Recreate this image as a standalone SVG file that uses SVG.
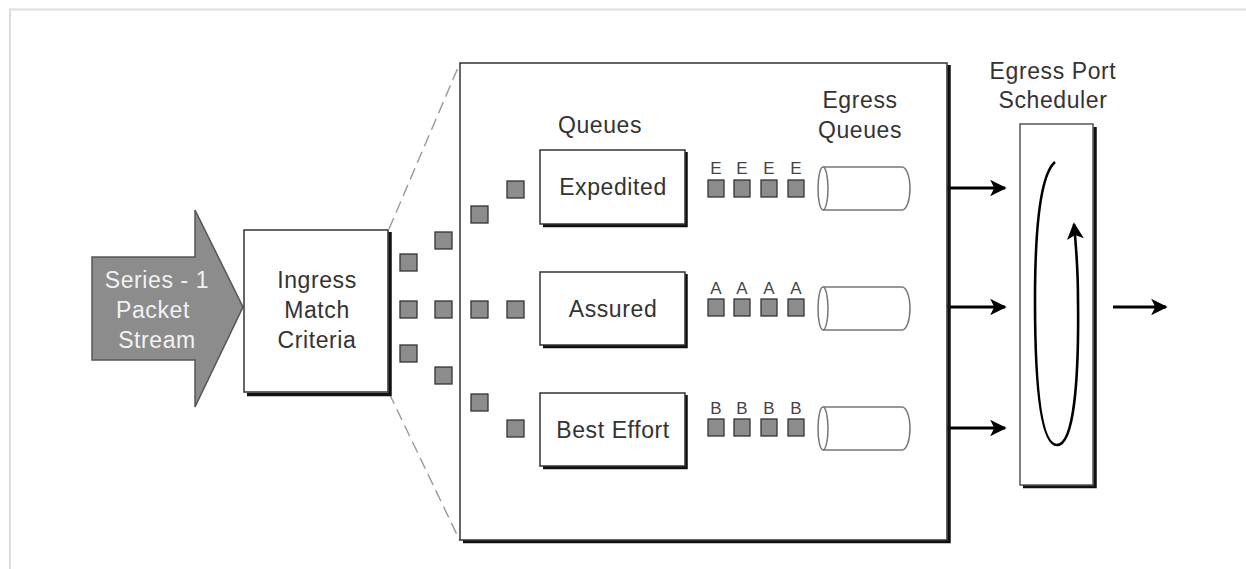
<svg xmlns="http://www.w3.org/2000/svg" width="1246" height="569" viewBox="0 0 1246 569">
  <defs>
    <style>
      text { font-family: "Liberation Sans", Arial, sans-serif; fill: #333; text-anchor: middle; }
      .lbl { font-size: 23px; letter-spacing: 0.6px; }
      .tag { font-size: 17px; fill: #444; }
      .box { fill: #fff; stroke: #333; stroke-width: 1.5; }
      .shadow { fill: none; stroke: #111; stroke-width: 3.5; }
      .pkt { fill: #8c8c8c; stroke: #333; stroke-width: 1.3; }
      .cyl { fill: #fff; stroke: #777; stroke-width: 1.5; }
      .flow { stroke: #000; stroke-width: 3; fill: none; marker-end: url(#head); }
      .guide { stroke: #999; stroke-width: 1.4; stroke-dasharray: 12,6; }
    </style>
    <marker id="head" viewBox="0 0 10 10" refX="9" refY="5" markerWidth="6" markerHeight="5.5" orient="auto" markerUnits="strokeWidth">
      <path d="M0,0 L10,5 L0,10 L2.5,5 Z" fill="#000"/>
    </marker>
    <marker id="loopHead" viewBox="0 0 10 10" refX="9" refY="5" markerWidth="6.5" markerHeight="6.5" orient="auto" markerUnits="strokeWidth">
      <path d="M0,0 L10,5 L0,10 L2.5,5 Z" fill="#000"/>
    </marker>
  </defs>

  <rect width="1246" height="569" fill="#fff"/>
  <!-- page frame -->
  <path d="M10,569 L10,9.5 L1246,9.5" fill="none" stroke="#dcdcdc" stroke-width="2"/>

  <g id="connectors">
    <line class="guide" x1="389" y1="229" x2="460" y2="63"/>
    <line class="guide" x1="389" y1="393" x2="460" y2="541"/>
    <line class="flow" x1="938" y1="188" x2="1005" y2="188"/>
    <line class="flow" x1="938" y1="307" x2="1005" y2="307"/>
    <line class="flow" x1="938" y1="428" x2="1005" y2="428"/>
    <line class="flow" x1="1113" y1="307" x2="1166" y2="307"/>
  </g>

  <g id="packet-stream">
    <polygon points="92,257 195,257 195,210 243,307 195,407 195,360 92,360" fill="#8c8c8c" stroke="#555" stroke-width="1.5"/>
    <text class="lbl" x="157" y="288" style="fill:#f2f2f2">Series - 1</text>
    <text class="lbl" x="153" y="318" style="fill:#f2f2f2">Packet</text>
    <text class="lbl" x="157" y="348" style="fill:#f2f2f2">Stream</text>
  </g>

  <g id="ingress">
    <path class="shadow" d="M390,232 L390,394.5 L247,394.5"/>
    <rect class="box" x="244" y="230" width="144" height="162"/>
    <text class="lbl" x="317" y="288">Ingress</text>
    <text class="lbl" x="317" y="318">Match</text>
    <text class="lbl" x="317" y="348">Criteria</text>
  </g>

  <g id="classifier">
    <path class="shadow" d="M949,65 L949,541.5 L463,541.5"/>
    <rect class="box" x="460" y="63" width="487" height="477"/>
    <text class="lbl" x="600" y="133">Queues</text>
    <text class="lbl" x="860" y="108">Egress</text>
    <text class="lbl" x="860" y="138">Queues</text>
  </g>

  <!-- packets fanning out of the classifier -->
  <g id="fan-packets">
    <rect class="pkt" x="400" y="254" width="17" height="17"/>
    <rect class="pkt" x="435" y="232" width="17" height="17"/>
    <rect class="pkt" x="471" y="206" width="17" height="17"/>
    <rect class="pkt" x="507" y="181" width="17" height="17"/>
    <rect class="pkt" x="400" y="301" width="17" height="17"/>
    <rect class="pkt" x="435" y="301" width="17" height="17"/>
    <rect class="pkt" x="471" y="301" width="17" height="17"/>
    <rect class="pkt" x="507" y="301" width="17" height="17"/>
    <rect class="pkt" x="400" y="345" width="17" height="17"/>
    <rect class="pkt" x="435" y="367" width="17" height="17"/>
    <rect class="pkt" x="471" y="394" width="17" height="17"/>
    <rect class="pkt" x="507" y="420" width="17" height="17"/>
  </g>

  <g id="q-expedited">
    <path class="shadow" d="M686,152 L686,225.5 L543,225.5"/>
    <rect class="box" x="540" y="150" width="145" height="74"/>
    <text class="lbl" x="613" y="195">Expedited</text>
  </g>
  <g id="q-assured">
    <path class="shadow" d="M686,274 L686,346.5 L543,346.5"/>
    <rect class="box" x="540" y="272" width="145" height="73"/>
    <text class="lbl" x="613" y="317">Assured</text>
  </g>
  <g id="q-best-effort">
    <path class="shadow" d="M686,395 L686,467.5 L543,467.5"/>
    <rect class="box" x="540" y="393" width="145" height="73"/>
    <text class="lbl" x="613" y="438">Best Effort</text>
  </g>

  <g id="egress-expedited">
    <text class="tag" x="716" y="174">E</text>
    <text class="tag" x="742" y="174">E</text>
    <text class="tag" x="769" y="174">E</text>
    <text class="tag" x="796" y="174">E</text>
    <rect class="pkt" x="708" y="180" width="16" height="17"/>
    <rect class="pkt" x="734" y="180" width="16" height="17"/>
    <rect class="pkt" x="761" y="180" width="16" height="17"/>
    <rect class="pkt" x="788" y="180" width="16" height="17"/>
    <path class="cyl" d="M823,167 L902,167 A8,21.5 0 0 1 902,210 L823,210 A5,21.5 0 0 1 823,167 Z"/>
    <path class="cyl" d="M823,167 A5,21.5 0 0 1 823,210" fill="none"/>
  </g>
  <g id="egress-assured">
    <text class="tag" x="716" y="294">A</text>
    <text class="tag" x="742" y="294">A</text>
    <text class="tag" x="769" y="294">A</text>
    <text class="tag" x="796" y="294">A</text>
    <rect class="pkt" x="708" y="299" width="16" height="17"/>
    <rect class="pkt" x="734" y="299" width="16" height="17"/>
    <rect class="pkt" x="761" y="299" width="16" height="17"/>
    <rect class="pkt" x="788" y="299" width="16" height="17"/>
    <path class="cyl" d="M823,287 L902,287 A8,21.5 0 0 1 902,330 L823,330 A5,21.5 0 0 1 823,287 Z"/>
    <path class="cyl" d="M823,287 A5,21.5 0 0 1 823,330" fill="none"/>
  </g>
  <g id="egress-best-effort">
    <text class="tag" x="716" y="414">B</text>
    <text class="tag" x="742" y="414">B</text>
    <text class="tag" x="769" y="414">B</text>
    <text class="tag" x="796" y="414">B</text>
    <rect class="pkt" x="708" y="419" width="16" height="17"/>
    <rect class="pkt" x="734" y="419" width="16" height="17"/>
    <rect class="pkt" x="761" y="419" width="16" height="17"/>
    <rect class="pkt" x="788" y="419" width="16" height="17"/>
    <path class="cyl" d="M823,407 L902,407 A8,21.5 0 0 1 902,450 L823,450 A5,21.5 0 0 1 823,407 Z"/>
    <path class="cyl" d="M823,407 A5,21.5 0 0 1 823,450" fill="none"/>
  </g>

  <g id="scheduler">
    <text class="lbl" x="1053" y="79">Egress Port</text>
    <text class="lbl" x="1053" y="108">Scheduler</text>
    <path class="shadow" d="M1095,127 L1095,486.5 L1023,486.5"/>
    <rect class="box" x="1020" y="124" width="73" height="361" style="stroke:#555"/>
    <path d="M1055,162 C1040,175 1035,230 1035,300 C1035,380 1040,445 1057,445 C1074,445 1079,380 1078,300 C1078,270 1076,245 1074,224"
          fill="none" stroke="#000" stroke-width="2.6" marker-end="url(#loopHead)"/>
  </g>
</svg>
